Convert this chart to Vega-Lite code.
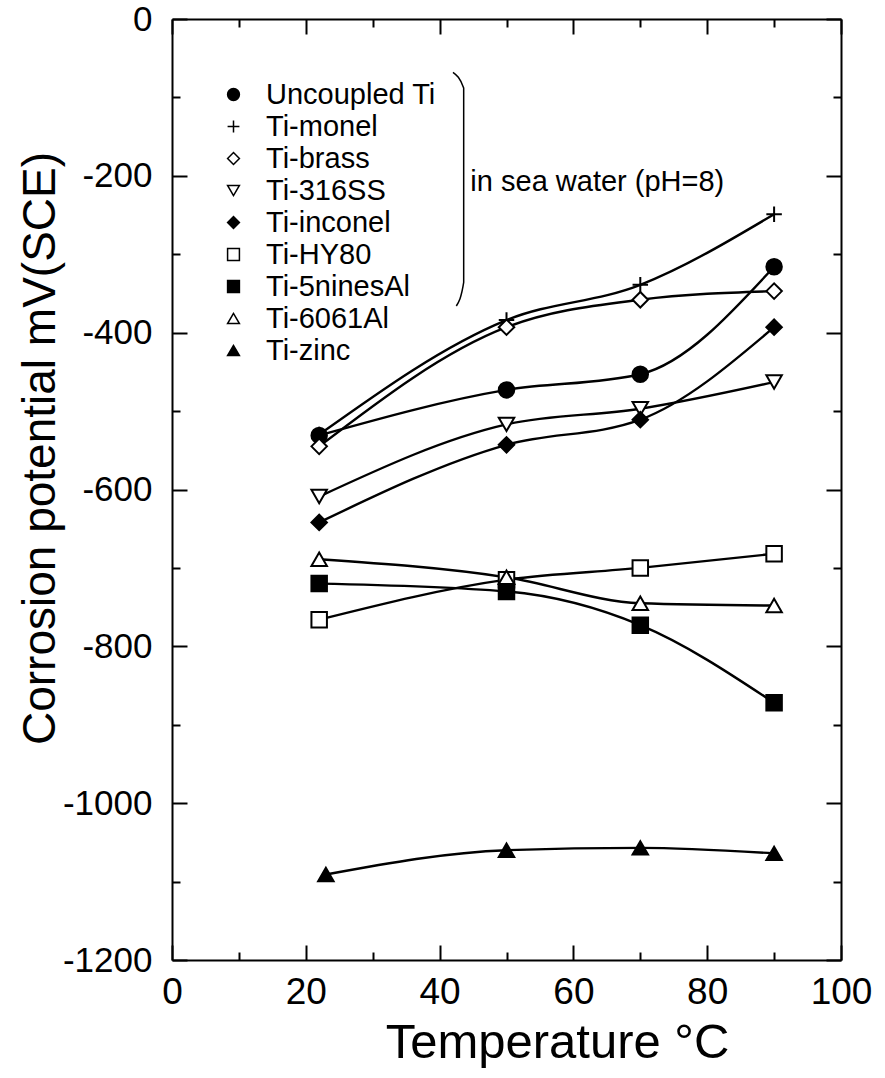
{
  "$schema": "https://vega.github.io/schema/vega-lite/v6.json",
  "width": 669,
  "height": 941,
  "autosize": "none",
  "padding": {"left": 172, "top": 19, "right": 44, "bottom": 118},
  "background": "white",
  "config": {
    "view": {"stroke": null},
    "font": "Liberation Sans",
    "axis": {
      "grid": false,
      "domainColor": "black",
      "domainWidth": 2,
      "tickColor": "black",
      "tickWidth": 2,
      "labelColor": "black",
      "titleColor": "black",
      "titleFontWeight": "normal",
      "labelFont": "Liberation Sans",
      "titleFont": "Liberation Sans",
      "labelOverlap": false,
      "labelFlush": false,
      "labelBound": false
    },
    "legend": {
      "title": null,
      "padding": 0,
      "labelFontSize": 29,
      "labelFont": "Liberation Sans",
      "labelColor": "black",
      "labelLimit": 400,
      "labelOffset": 18,
      "rowPadding": 2,
      "symbolSize": 140,
      "symbolStrokeWidth": 1.5
    }
  },
  "datasets": {
    "corrosion": [
      {"series": "Uncoupled Ti", "temp": 22, "mv": -531},
      {"series": "Uncoupled Ti", "temp": 50, "mv": -473},
      {"series": "Uncoupled Ti", "temp": 70, "mv": -453},
      {"series": "Uncoupled Ti", "temp": 90, "mv": -316},
      {"series": "Ti-monel", "temp": 22, "mv": -530},
      {"series": "Ti-monel", "temp": 50, "mv": -384},
      {"series": "Ti-monel", "temp": 70, "mv": -339},
      {"series": "Ti-monel", "temp": 90, "mv": -249},
      {"series": "Ti-brass", "temp": 22, "mv": -545},
      {"series": "Ti-brass", "temp": 50, "mv": -393},
      {"series": "Ti-brass", "temp": 70, "mv": -358},
      {"series": "Ti-brass", "temp": 90, "mv": -347},
      {"series": "Ti-316SS", "temp": 22, "mv": -609},
      {"series": "Ti-316SS", "temp": 50, "mv": -517},
      {"series": "Ti-316SS", "temp": 70, "mv": -497},
      {"series": "Ti-316SS", "temp": 90, "mv": -463},
      {"series": "Ti-inconel", "temp": 22, "mv": -642},
      {"series": "Ti-inconel", "temp": 50, "mv": -543},
      {"series": "Ti-inconel", "temp": 70, "mv": -511},
      {"series": "Ti-inconel", "temp": 90, "mv": -393},
      {"series": "Ti-HY80", "temp": 22, "mv": -766},
      {"series": "Ti-HY80", "temp": 50, "mv": -715},
      {"series": "Ti-HY80", "temp": 70, "mv": -700},
      {"series": "Ti-HY80", "temp": 90, "mv": -682},
      {"series": "Ti-5ninesAl", "temp": 22, "mv": -720},
      {"series": "Ti-5ninesAl", "temp": 50, "mv": -730},
      {"series": "Ti-5ninesAl", "temp": 70, "mv": -773},
      {"series": "Ti-5ninesAl", "temp": 90, "mv": -872},
      {"series": "Ti-6061Al", "temp": 22, "mv": -689},
      {"series": "Ti-6061Al", "temp": 50, "mv": -712},
      {"series": "Ti-6061Al", "temp": 70, "mv": -745},
      {"series": "Ti-6061Al", "temp": 90, "mv": -748},
      {"series": "Ti-zinc", "temp": 23, "mv": -1091},
      {"series": "Ti-zinc", "temp": 50, "mv": -1060},
      {"series": "Ti-zinc", "temp": 70, "mv": -1057},
      {"series": "Ti-zinc", "temp": 90, "mv": -1064}
    ],
    "brace": [
      {"k": 1, "temp": 42.0, "mv": -68},
      {"k": 2, "temp": 43.6, "mv": -88},
      {"k": 3, "temp": 43.6, "mv": -336},
      {"k": 4, "temp": 42.5, "mv": -366}
    ],
    "note": [
      {"temp": 44.6, "mv": -208, "text": "in sea water (pH=8)"}
    ]
  },
  "layer": [
    {
      "data": {"name": "corrosion"},
      "mark": {"type": "line", "color": "black", "strokeWidth": 2.4, "interpolate": "monotone"},
      "encoding": {
        "x": {
          "field": "temp", "type": "quantitative",
          "scale": {"domain": [0, 100], "nice": false, "zero": false},
          "axis": {
            "orient": "bottom",
            "values": [0, 20, 40, 60, 80, 100],
            "tickSize": -15,
            "labelPadding": 29,
            "labelFontSize": 37,
            "labelFont": "Liberation Sans Narrow, Liberation Sans, sans-serif",
            "title": "Temperature °C",
            "titleFontSize": 49,
            "titlePadding": 8,
            "titleX": 385
          }
        },
        "y": {
          "field": "mv", "type": "quantitative",
          "scale": {"domain": [-1200, 0], "nice": false, "zero": false},
          "axis": {
            "orient": "left",
            "values": [-1200, -1000, -800, -600, -400, -200, 0],
            "labelExpr": "datum.value < 0 ? '-' + abs(datum.value) : '' + datum.value",
            "tickSize": -15,
            "labelPadding": 35,
            "labelFontSize": 35,
            "title": "Corrosion potential mV(SCE)",
            "titleFontSize": 46,
            "titleX": -132,
            "titleY": 429,
            "titleAlign": "center",
            "titleBaseline": "middle"
          }
        },
        "detail": {"field": "series"}
      }
    },
    {
      "data": {"name": "corrosion"},
      "mark": {"type": "point", "strokeWidth": 2, "opacity": 1, "size": 240},
      "encoding": {
        "x": {
          "field": "temp", "type": "quantitative",
          "scale": {"domain": [0, 100], "nice": false, "zero": false},
          "axis": {
            "orient": "top",
            "values": [0, 20, 40, 60, 80, 100],
            "labels": false,
            "tickSize": -15,
            "title": null
          }
        },
        "y": {
          "field": "mv", "type": "quantitative",
          "scale": {"domain": [-1200, 0], "nice": false, "zero": false},
          "axis": {
            "orient": "right",
            "values": [-1200, -1000, -800, -600, -400, -200, 0],
            "labels": false,
            "tickSize": -15,
            "title": null
          }
        },
        "shape": {
          "field": "series", "type": "nominal",
          "scale": {
            "domain": ["Uncoupled Ti", "Ti-monel", "Ti-brass", "Ti-316SS", "Ti-inconel", "Ti-HY80", "Ti-5ninesAl", "Ti-6061Al", "Ti-zinc"],
            "range": ["circle", "M -1 0 L 1 0 M 0 -1 L 0 1", "diamond", "triangle-down", "diamond", "square", "square", "triangle-up", "triangle-up"]
          },
          "legend": {"title": null, "orient": "none", "legendX": 47, "legendY": 61}
        },
        "fill": {
          "field": "series", "type": "nominal",
          "scale": {
            "domain": ["Uncoupled Ti", "Ti-monel", "Ti-brass", "Ti-316SS", "Ti-inconel", "Ti-HY80", "Ti-5ninesAl", "Ti-6061Al", "Ti-zinc"],
            "range": ["black", "white", "white", "white", "black", "white", "black", "white", "black"]
          },
          "legend": {"title": null, "orient": "none", "legendX": 47, "legendY": 61}
        },
        "stroke": {
          "field": "series", "type": "nominal",
          "scale": {
            "domain": ["Uncoupled Ti", "Ti-monel", "Ti-brass", "Ti-316SS", "Ti-inconel", "Ti-HY80", "Ti-5ninesAl", "Ti-6061Al", "Ti-zinc"],
            "range": ["black", "black", "black", "black", "black", "black", "black", "black", "black"]
          },
          "legend": {"title": null, "orient": "none", "legendX": 47, "legendY": 61}
        }
      }
    },
    {
      "data": {"name": "brace"},
      "mark": {"type": "line", "color": "black", "strokeWidth": 1.5, "interpolate": "monotone"},
      "encoding": {
        "x": {
          "field": "temp", "type": "quantitative",
          "axis": {"orient": "bottom", "values": [10, 30, 50, 70, 90], "labels": false, "domain": false, "tickSize": -8, "title": null}
        },
        "y": {
          "field": "mv", "type": "quantitative",
          "axis": {"orient": "left", "values": [-1100, -900, -700, -500, -300, -100], "labels": false, "domain": false, "tickSize": -8, "title": null}
        },
        "order": {"field": "k"}
      }
    },
    {
      "data": {"name": "note"},
      "mark": {"type": "text", "align": "left", "baseline": "middle", "fontSize": 29, "font": "Liberation Sans", "color": "black"},
      "encoding": {
        "x": {
          "field": "temp", "type": "quantitative",
          "axis": {"orient": "top", "values": [10, 30, 50, 70, 90], "labels": false, "domain": false, "tickSize": -8, "title": null}
        },
        "y": {
          "field": "mv", "type": "quantitative",
          "axis": {"orient": "right", "values": [-1100, -900, -700, -500, -300, -100], "labels": false, "domain": false, "tickSize": -8, "title": null}
        },
        "text": {"field": "text"}
      }
    }
  ],
  "resolve": {"axis": {"x": "independent", "y": "independent"}}
}
